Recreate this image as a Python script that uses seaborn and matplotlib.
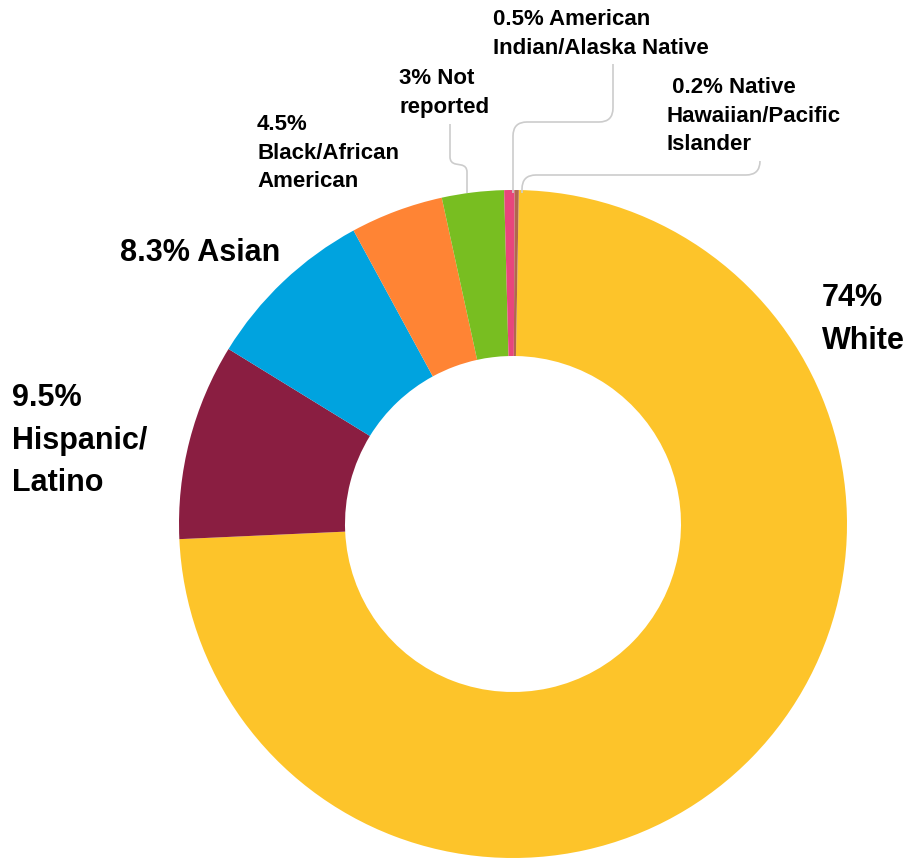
import numpy as np
import matplotlib.pyplot as plt
import seaborn as sns
from matplotlib.path import Path
from matplotlib.patches import PathPatch

# ============================================================================
# DATA
# ============================================================================
groups = ["White", "Hispanic/Latino", "Asian", "Black/African American",
          "Not reported", "American Indian/Alaska Native",
          "Native Hawaiian/Pacific Islander"]
shares = [74, 9.5, 8.3, 4.5, 3, 0.5, 0.2]
colors = ["#FDC42A", "#8A1E41", "#00A3DF", "#FF8434", "#78BE21",
          "#E8467C", "#B0674E"]
labels = ["74%\nWhite", "9.5%\nHispanic/\nLatino", "8.3% Asian",
          "4.5%\nBlack/African\nAmerican", "3% Not\nreported",
          "0.5% American\nIndian/Alaska Native",
          " 0.2% Native\nHawaiian/Pacific\nIslander"]

W, H = 905, 861

sns.set_theme(style="white")
plt.rcParams['font.family'] = ['Liberation Sans', 'DejaVu Sans']

fig = plt.figure(figsize=(W / 100, H / 100), dpi=100)
ax = fig.add_axes([0, 0, 1, 1])


def Y(py):
    # pixel row (top origin) -> data y (bottom origin)
    return H - py


# Donut
ax.pie(shares, colors=colors, startangle=89, counterclock=False,
       center=(513, Y(524)), radius=334,
       wedgeprops=dict(width=166, linewidth=0))

ax.set_xlim(0, W)
ax.set_ylim(0, H)
ax.set_aspect('equal')
ax.axis('off')

# Labels : (x, top y en pixels, taille)
label_pos = {
    "White": (822, 283, 22),
    "Hispanic/Latino": (12, 383, 22),
    "Asian": (120, 238, 22),
    "Black/African American": (257, 114, 16),
    "Not reported": (399, 68, 16),
    "American Indian/Alaska Native": (493, 9, 16),
    "Native Hawaiian/Pacific Islander": (666, 77, 16),
}
for grp, lab in zip(groups, labels):
    x, y, fs = label_pos[grp]
    ax.text(x, Y(y), lab, ha='left', va='top', fontsize=fs,
            fontweight='bold', color='black',
            linespacing=1.47 if fs < 20 else 1.55)


# Lignes de rappel (coins arrondis)
def rounded_path(pts, r=10):
    pts = [np.array((px, Y(py)), dtype=float) for px, py in pts]
    verts = [pts[0]]
    codes = [Path.MOVETO]
    for i in range(1, len(pts) - 1):
        p0, p1, p2 = pts[i - 1], pts[i], pts[i + 1]
        d1 = (p1 - p0) / np.linalg.norm(p1 - p0)
        d2 = (p2 - p1) / np.linalg.norm(p2 - p1)
        verts += [p1 - d1 * r, p1, p1 + d2 * r]
        codes += [Path.LINETO, Path.CURVE3, Path.CURVE3]
    verts.append(pts[-1])
    codes.append(Path.LINETO)
    return Path(verts, codes)


leaders = [
    [(450, 124), (450, 163), (467, 166), (467, 193)],
    [(613, 64), (613, 122), (513, 122), (513, 193)],
    [(760, 161), (760, 175), (522, 175), (522, 193)],
]
for pts in leaders:
    r = 6 if pts[0][0] == 450 else 14
    ax.add_patch(PathPatch(rounded_path(pts, r), fill=False,
                           edgecolor='#CCCCCC', linewidth=1.2))

plt.savefig("out.png", dpi=100)
plt.close()
